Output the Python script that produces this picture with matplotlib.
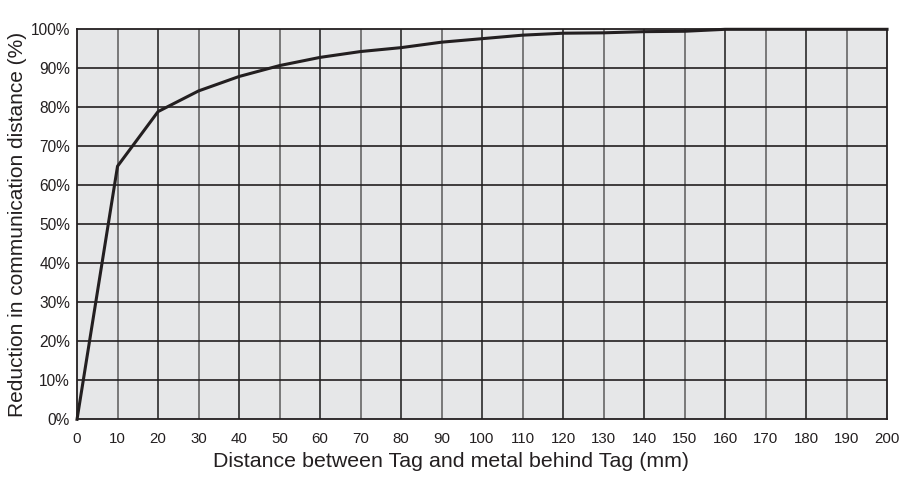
import matplotlib
matplotlib.use("Agg")
import matplotlib.pyplot as plt

distance_mm = [0, 10, 20, 30, 40, 50, 60, 70, 80, 90, 100, 110, 120, 130, 140, 150, 160, 170, 180, 190, 200]
reduction_pct = [0, 64.9, 78.9, 84.2, 87.9, 90.7, 92.8, 94.3, 95.3, 96.7, 97.6, 98.5, 99.0, 99.1, 99.4, 99.5, 100, 100, 100, 100, 100]
x_ticks = list(range(0, 201, 10))
y_ticks = list(range(0, 101, 10))
y_tick_labels = [f"{v}%" for v in y_ticks]

plt.rcParams['font.family'] = ['Liberation Sans', 'DejaVu Sans']

fig = plt.figure(figsize=(9.02, 4.79), dpi=100)
ax = fig.add_axes([0.0854, 0.1246, 0.8980, 0.8142])
ax.set_facecolor('#e6e7e8')

for xv in x_ticks[1:-1]:
    ax.axvline(xv, color='#3a3a3a' if (xv // 10) % 2 == 0 else '#707070', lw=1.3, zorder=1)
for yv in y_ticks[1:-1]:
    ax.axhline(yv, color='#231f20', lw=1.2, zorder=1)

ax.plot(distance_mm, reduction_pct, color='#231f20', lw=2.2, zorder=3, clip_on=False)

ax.set_xlim(0, 200)
ax.set_ylim(0, 100)
ax.set_xticks(x_ticks)
ax.set_xticklabels([str(v) for v in x_ticks])
ax.set_yticks(y_ticks)
ax.set_yticklabels(y_tick_labels)
ax.tick_params(axis='both', length=0, colors='#231f20')
ax.tick_params(axis='x', pad=9, labelsize=10.8)
ax.tick_params(axis='y', pad=5, labelsize=11.2)
for s in ax.spines.values():
    s.set_color('#231f20')
    s.set_linewidth(1.3)

ax.set_xlabel('Distance between Tag and metal behind Tag (mm)', fontsize=15.4, color='#231f20')
ax.xaxis.set_label_coords(0.462, -0.083)
ax.set_ylabel('Reduction in communication distance (%)', fontsize=15, color='#231f20')
ax.yaxis.set_label_coords(-0.062, 0.5)

fig.savefig('out.png', dpi=100)
